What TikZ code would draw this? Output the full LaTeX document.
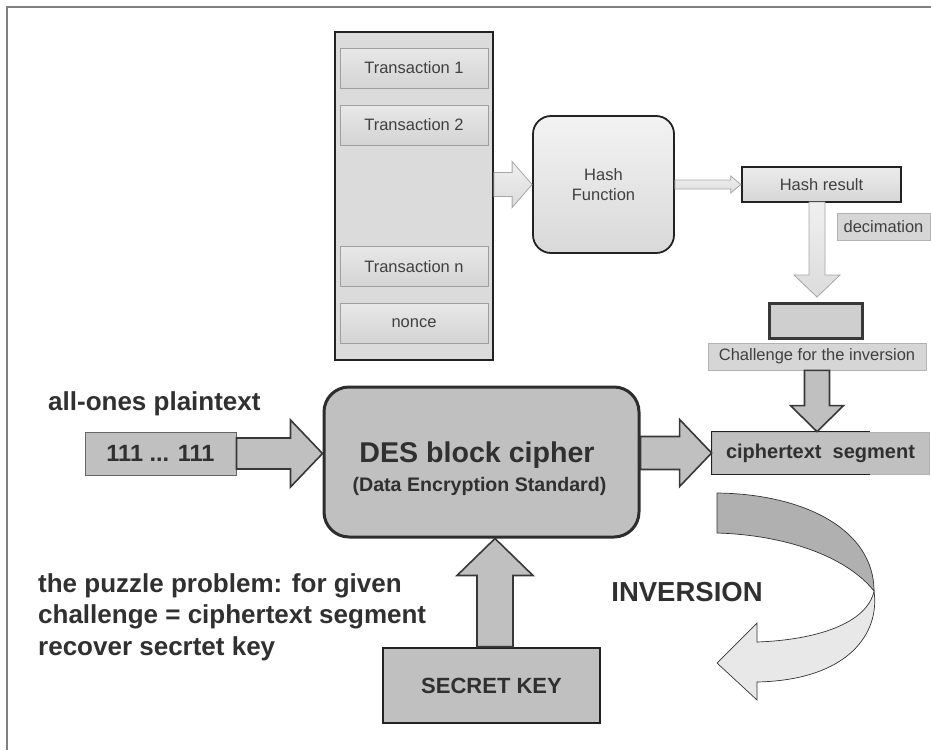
\documentclass[tikz,border=0pt]{standalone}
\usepackage{fontspec}
\setmainfont{Liberation Sans}
\usetikzlibrary{calc}

\definecolor{txtTop}{HTML}{404040}
\definecolor{txtBot}{HTML}{303030}
\definecolor{boxGray}{HTML}{C0C0C0}
\definecolor{edgeDark}{HTML}{222222}
\definecolor{frameGray}{HTML}{808080}

% right-pointing block arrow: style, tail, tip, shaft half, head half, head length
\newcommand{\HBlockArrow}[6]{%
  \draw[#1] ($(#2)+(0,-#4)$) -- ($(#3)+(-#6,-#4)$) -- ($(#3)+(-#6,-#5)$) -- (#3)
    -- ($(#3)+(-#6,#5)$) -- ($(#3)+(-#6,#4)$) -- ($(#2)+(0,#4)$) -- cycle;}
% vertical block arrow: positive head length points down, negative points up
\newcommand{\VBlockArrow}[6]{%
  \draw[#1] ($(#2)+(-#4,0)$) -- ($(#3)+({-(#4)},{-(#6)})$) -- ($(#3)+({-(#5)},{-(#6)})$) -- (#3)
    -- ($(#3)+(#5,{-(#6)})$) -- ($(#3)+(#4,{-(#6)})$) -- ($(#2)+(#4,0)$) -- cycle;}

\tikzset{
  topfont/.style={font=\fontsize{16.5}{20}\selectfont, text=txtTop},
  txbox/.style={draw=gray!75, line width=0.8pt, top color=gray!18, bottom color=gray!34,
    inner sep=0pt, topfont},
  tagbox/.style={draw=gray!60, line width=0.8pt, fill=gray!32, inner sep=0pt, topfont},
  grayarrow/.style={draw=gray!70, line width=0.8pt, top color=gray!12, bottom color=gray!28},
  darkarrow/.style={draw=edgeDark!90, line width=1.6pt, fill=boxGray},
  boldtxt/.style={font=\bfseries, text=txtBot, inner sep=0pt},
}

\begin{document}
\begin{tikzpicture}[x=1pt, y=-1pt]
\useasboundingbox (0,0) rectangle (931,750);

% page frame (top and left edges)
\draw[frameGray, line width=2pt] (7,750) -- (7,7) -- (931,7);

% ---------- block of transactions ----------
\node[draw=edgeDark, line width=1.8pt, fill=gray!28, minimum width=158, minimum height=328,
  inner sep=0pt] (blk) at (414,196) {};
\node[txbox, minimum width=148, minimum height=40] (t1) at (414,68) {Transaction 1};
\node[txbox, minimum width=148, minimum height=40] (t2) at (414,125) {Transaction 2};
\node[txbox, minimum width=148, minimum height=40] (tn) at (414,266.5) {Transaction n};
\node[txbox, minimum width=148, minimum height=40] (nonce) at (414,323) {nonce};

% ---------- hashing ----------
\node[draw=edgeDark, line width=1.8pt, rounded corners=18pt, top color=gray!10, bottom color=gray!30,
  minimum width=141, minimum height=137, inner sep=0pt, topfont, align=center]
  (hash) at (603.5,184.5) {Hash\\Function};
\node[draw=edgeDark, line width=2.4pt, top color=gray!15, bottom color=gray!32,
  minimum width=159, minimum height=35, inner sep=0pt, topfont] (hres) at (821.5,184.5) {Hash result};
\node[tagbox, minimum width=93, minimum height=27] (dec) at (883.5,226.5) {decimation};
\node[draw=edgeDark!90, line width=3pt, fill=gray!38, minimum width=93, minimum height=35,
  inner sep=0pt] (chbox) at (815.5,320.5) {};
\node[tagbox, minimum width=218, minimum height=27] (chal) at (817,356.5) {Challenge for the inversion};

\coordinate (hashIn) at (blk.east |- hash.west);
\HBlockArrow{grayarrow}{hashIn}{hash.west}{12}{23}{20}
\HBlockArrow{grayarrow}{hash.east}{hres.west}{4.5}{8.5}{10}
\coordinate (decTop) at (817,202);
\coordinate (decTip) at (817,297);
\VBlockArrow{grayarrow}{decTop}{decTip}{8}{23}{22}

% ---------- cipher ----------
\node[draw=edgeDark!95, line width=3pt, rounded corners=25pt, fill=boxGray,
  minimum width=315, minimum height=150, inner sep=0pt] (des) at (481.5,462) {};
\node[boldtxt, anchor=base, font=\bfseries\fontsize{28.6}{32}\selectfont] (desT) at (477,462) {DES block cipher};
\node[boldtxt, anchor=base, font=\bfseries\fontsize{19.6}{22}\selectfont] (desS) at (479.5,491) {(Data Encryption Standard)};

\node[draw=gray!80!black, line width=1pt, fill=boxGray, minimum width=151, minimum height=43,
  inner sep=0pt, boldtxt, font=\bfseries\fontsize{23.5}{26}\selectfont] (ones) at (160.5,453.5) {111 ... 111};
\node[boldtxt, anchor=base west, font=\bfseries\fontsize{26}{30}\selectfont] (ptlabel) at (48,410) {all-ones plaintext};

\node[draw=gray!60, line width=0.8pt, fill=boxGray, minimum width=217, minimum height=42,
  inner sep=0pt, boldtxt, font=\bfseries\fontsize{20}{24}\selectfont] (ctext) at (820.5,453) {ciphertext\ \ segment};
\draw[edgeDark, line width=1.2pt] ($(ctext.north west)+(158,0)$) -- (ctext.north west)
  -- (ctext.south west) -- ++(158,0);

\node[draw=edgeDark, line width=2.6pt, fill=boxGray, minimum width=217, minimum height=75,
  inner sep=0pt, boldtxt, font=\bfseries\fontsize{22}{26}\selectfont] (key) at (491.5,685.5) {SECRET KEY};

\HBlockArrow{darkarrow}{ones.east}{ones.east -| des.west}{15.5}{33.5}{32}
\HBlockArrow{darkarrow}{des.east |- ctext.west}{ctext.west}{16.5}{33.5}{32}
\VBlockArrow{darkarrow}{chal.south}{chal.south |- ctext.north}{12.5}{26.5}{26}
\coordinate (keyTop) at ($(key.north)+(3.5,0)$);
\coordinate (keyTip) at (keyTop |- des.south);
\VBlockArrow{darkarrow}{keyTop}{keyTip}{18}{38}{-37}

% ---------- puzzle statement ----------
\node[boldtxt, anchor=north west, align=left, font=\bfseries\fontsize{26}{31.5}\selectfont] (puzzle) at (38,573)
  {the puzzle problem: for given\\challenge = ciphertext segment\\recover secrtet key};

% ---------- inversion ----------
\node[boldtxt, font=\bfseries\fontsize{27.5}{30}\selectfont] (inv) at (687,592) {INVERSION};
\coordinate (twist) at (874,591);
\draw[fill=gray!18, draw=gray!40!black, line width=0.7pt]
  (twist) .. controls (880,632) and (850,680) .. (757,682) -- (757,700) -- (717,663) -- (757,623)
  -- (757,642) .. controls (815,640) and (867,624) .. (twist) -- cycle;
\draw[fill=gray!62, draw=gray!40!black, line width=0.7pt]
  (717,493) .. controls (805,494) and (874,530) .. (twist)
  .. controls (846,556) and (785,535) .. (717,533) -- cycle;
\end{tikzpicture}
\end{document}
